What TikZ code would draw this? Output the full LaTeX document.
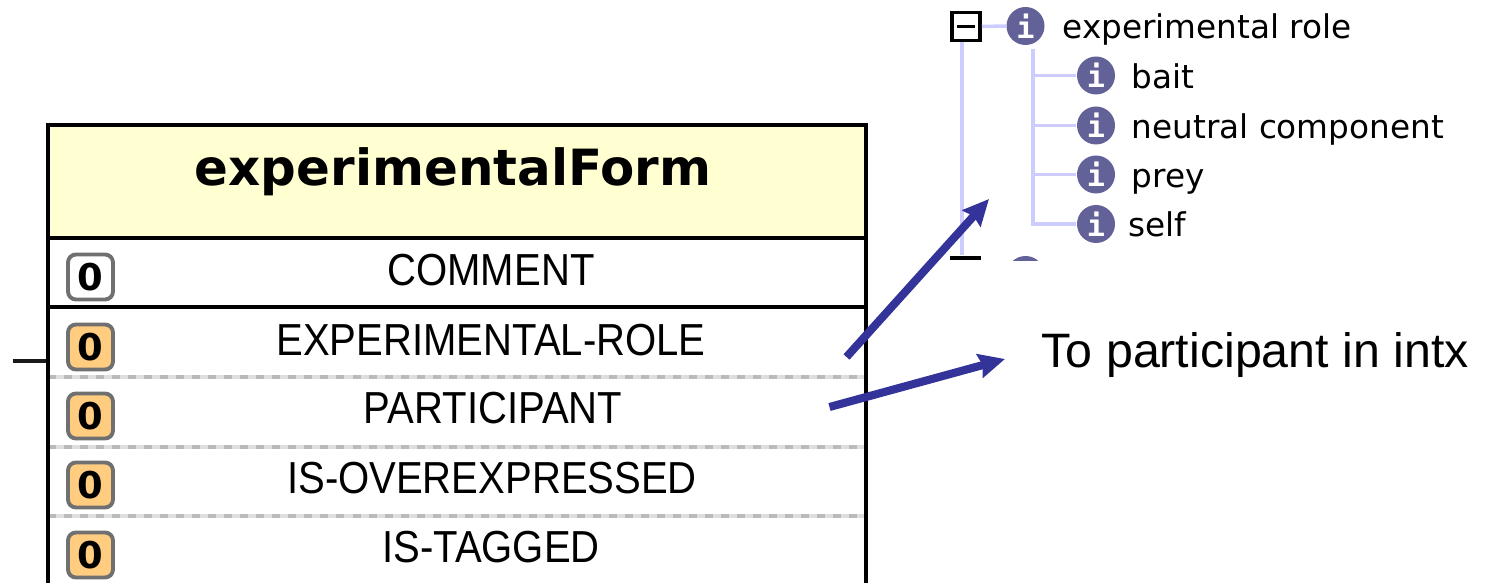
\documentclass[tikz,border=0pt]{standalone}
\usepackage{fontspec}
\setmainfont{Liberation Sans}
\newfontfamily\treefont{DejaVu Sans}
\newfontfamily\headfont{DejaVu Sans Bold}
\newfontfamily\iconfont{DejaVu Sans Mono Bold}
\usetikzlibrary{arrows.meta}
\definecolor{headyellow}{RGB}{255,255,210}
\definecolor{badgeorange}{RGB}{255,204,128}
\definecolor{badgegray}{RGB}{112,112,112}
\definecolor{treeline}{RGB}{204,204,255}
\definecolor{iconblue}{RGB}{98,98,152}
\definecolor{arrowblue}{RGB}{51,51,153}
\newcommand{\rowlabel}[1]{\scalebox{1}[1.12]{#1}}
\tikzset{
	rowtext/.style={inner sep=0pt,font=\fontsize{11.4pt}{13pt}\selectfont},
	badge/.style={draw=badgegray,line width=1.1pt,fill=badgeorange,rounded corners=0.08cm,minimum size=0.45cm,inner sep=0pt,font=\headfont\fontsize{10.5pt}{13pt}\selectfont},
	info/.style={circle,fill=iconblue,text=white,minimum size=0.38cm,inner sep=0pt,font=\iconfont\fontsize{8.6pt}{10pt}\selectfont},
	treetext/.style={anchor=base west,inner sep=0pt,font=\treefont\fontsize{9.3pt}{11pt}\selectfont},
	tableline/.style={line width=1.15pt,black},
	treelink/.style={line width=1pt,treeline},
	callout/.style={-{Stealth[length=0.26cm,width=0.24cm,inset=0.03cm]},line width=2.3pt,arrowblue},
}
\begin{document}
\begin{tikzpicture}
	\useasboundingbox (0,0) rectangle (14.9,5.83);
	
	%table head
	\node[draw=black,line width=1.15pt,fill=headyellow,minimum width=8.18cm,minimum height=1.13cm,inner sep=0pt] (form) at (4.57,4.015) {};
	\node[inner sep=0pt,font=\headfont\fontsize{14.2pt}{16pt}\selectfont] (formname) at (4.53,4.11) {experimentalForm};
	
	%dashed row lines
	\foreach \y in {2.06,1.36,0.67}{
		\draw[line width=1.1pt,black!13] (0.48,\y)--(8.66,\y);
		\draw[line width=1.1pt,black!27,dash pattern={on 2.28pt off 2.28pt}] (0.48,\y)--(8.66,\y);
	}
	\draw[tableline] (0.48,2.76)--(8.66,2.76);	%solid row line
	\draw[tableline] (0.48,3.45)--(0.48,0);		%left side
	\draw[tableline] (8.66,3.45)--(8.66,0);		%right side
	
	%rows
	\node[rowtext] (comment) at (4.91,3.13) {\rowlabel{COMMENT}};
	\node[rowtext] (exprole) at (4.91,2.43) {\rowlabel{EXPERIMENTAL-ROLE}};
	\node[rowtext] (particip) at (4.93,1.75) {\rowlabel{PARTICIPANT}};
	\node[rowtext] (overexp) at (4.92,1.05) {\rowlabel{IS-OVEREXPRESSED}};
	\node[rowtext] (tagged) at (4.91,0.36) {\rowlabel{IS-TAGGED}};
	
	%badges
	\node[badge,fill=white] (bcomment) at (0.905,3.06) {0};
	\node[badge] (bexprole) at (0.905,2.36) {0};
	\node[badge] (bparticip) at (0.905,1.67) {0};
	\node[badge] (boverexp) at (0.905,0.98) {0};
	\node[badge] (btagged) at (0.905,0.28) {0};
	
	%stub on the left side
	\coordinate (stubL) at (0.13,2.22);
	\coordinate (stubR) at (0.46,2.22);
	\draw[line width=1.1pt,black!90] (stubL)--(stubR);
	
	%tree icons
	\node[info] (role) at (10.255,5.57) {i};
	\node[info] (bait) at (10.96,5.075) {i};
	\node[info] (neutral) at (10.96,4.575) {i};
	\node[info] (prey) at (10.96,4.085) {i};
	\node[info] (self) at (10.96,3.59) {i};
	
	%tree labels
	\node[treetext] (rolename) at (10.62,5.44) {experimental role};
	\node[treetext] (baitname) at (11.31,4.94) {bait};
	\node[treetext] (neutralname) at (11.31,4.44) {neutral component};
	\node[treetext] (preyname) at (11.31,3.95) {prey};
	\node[treetext] (selfname) at (11.28,3.46) {self};
	
	%tree lines
	\coordinate (trunkT) at (9.62,5.41);
	\coordinate (trunkB) at (9.62,3.28);
	\coordinate (branch) at (10.33,5.34);
	\draw[treelink] (trunkT)--(trunkB);
	\draw[treelink] (branch) |- (bait);
	\draw[treelink] (branch) |- (neutral);
	\draw[treelink] (branch) |- (prey);
	\draw[treelink] (branch) |- (self);
	
	%minus box
	\node[draw=black,line width=1pt,fill=white,minimum size=0.28cm,inner sep=0pt] (minus) at (9.66,5.565) {};
	\draw[line width=0.8pt] ([xshift=-0.09cm]minus.center)--([xshift=0.09cm]minus.center);
	\draw[treelink] (minus)--(role);
	
	%cut off items at the bottom
	\coordinate (barL) at (9.5,3.25);
	\coordinate (barR) at (9.81,3.25);
	\draw[line width=0.9pt] (barL)--(barR);
	\begin{scope}
		\clip (10,3.22) rectangle (10.5,3.3);
		\node[info] (next) at (10.255,3.08) {};
	\end{scope}
	
	%arrows
	\coordinate (upS) at (8.465,2.26);
	\coordinate (upE) at (9.89,3.84);
	\coordinate (toS) at (8.295,1.76);
	\coordinate (toE) at (10.05,2.24);
	\draw[callout] (upS)--(upE);
	\draw[callout] (toS)--(toE);
	\node[anchor=base west,inner sep=0pt,font=\fontsize{13.75pt}{16pt}\selectfont] (tolabel) at (10.41,2.16) {To participant in intx};
	
\end{tikzpicture}
\end{document}
